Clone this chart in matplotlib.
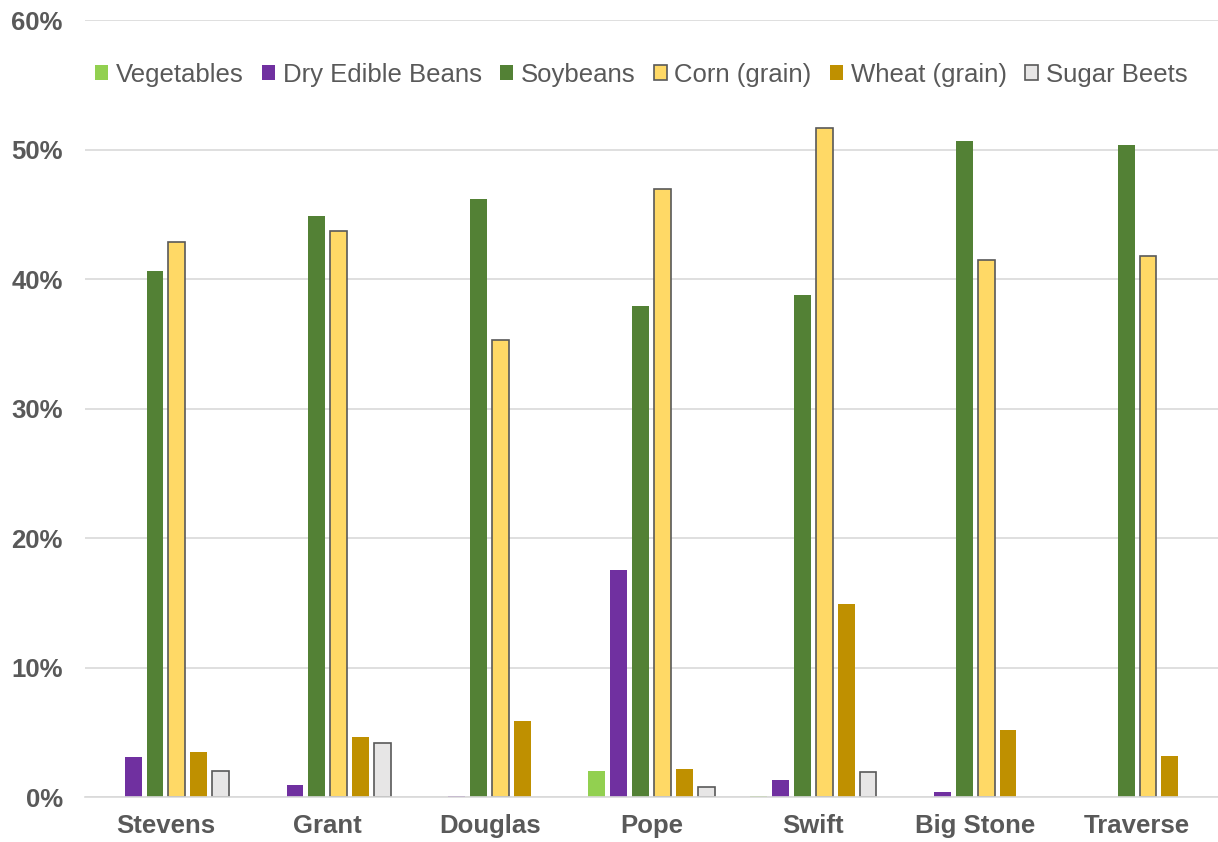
import numpy as np
import matplotlib
matplotlib.use('Agg')
import matplotlib.pyplot as plt

plt.rcParams['font.family'] = ['Liberation Sans', 'DejaVu Sans']

counties = ['Stevens', 'Grant', 'Douglas', 'Pope', 'Swift', 'Big Stone', 'Traverse']
crops = ['Vegetables', 'Dry Edible Beans', 'Soybeans', 'Corn (grain)', 'Wheat (grain)', 'Sugar Beets']

vegetables = [0.0, 0.0, 0.0, 2.0, 0.1, 0.0, 0.0]
dry_beans = [3.1, 0.9, 0.1, 17.5, 1.3, 0.4, 0.0]
soybeans = [40.6, 44.9, 46.2, 37.9, 38.8, 50.7, 50.4]
corn = [42.9, 43.7, 35.3, 47.0, 51.7, 41.5, 41.8]
wheat = [3.5, 4.6, 5.9, 2.2, 14.9, 5.2, 3.2]
sugar_beets = [2.0, 4.2, 0.0, 0.8, 1.9, 0.0, 0.0]

series = [vegetables, dry_beans, soybeans, corn, wheat, sugar_beets]
colors = ['#92D050', '#7030A0', '#538135', '#FFD966', '#BF9000', '#E7E6E6']
edges = [None, None, None, '#595959', None, '#595959']

fig = plt.figure(figsize=(12.18, 8.42), dpi=100)
ax = fig.add_axes([0.0698, 0.0534, 0.9302, 0.9226])

x = np.arange(len(counties))
pitch = 0.135
width = 0.104
for i, (vals, c, ec) in enumerate(zip(series, colors, edges)):
    off = (i - 2.5) * pitch
    v = np.array(vals, dtype=float)
    v[v == 0] = np.nan  # no mark for zero values
    if ec:
        ax.bar(x + off, v, width, color=c, edgecolor=ec, linewidth=1.2, label=crops[i], zorder=3)
    else:
        ax.bar(x + off, v, width, color=c, linewidth=0, label=crops[i], zorder=3)

ax.set_xlim(-0.5, len(counties) - 0.5)
ax.set_ylim(0, 60)
ax.set_yticks(np.arange(0, 61, 10))
ax.set_yticklabels([f'{v}%' for v in range(0, 61, 10)])
ax.set_xticks(x)
ax.set_xticklabels(counties)

ax.grid(axis='y', color='#D9D9D9', linewidth=1.2, zorder=0)
for s in ['top', 'right', 'left']:
    ax.spines[s].set_visible(False)
ax.spines['bottom'].set_color('#D9D9D9')
ax.spines['bottom'].set_linewidth(1.2)
ax.spines['bottom'].set_zorder(4)
ax.tick_params(axis='both', length=0, colors='#595959')
ax.tick_params(axis='x', pad=12)
ax.tick_params(axis='y', pad=16)
for lab in ax.get_xticklabels():
    lab.set_fontsize(18.5)
    lab.set_fontweight('bold')
for lab in ax.get_yticklabels():
    lab.set_fontsize(18.5)
    lab.set_fontweight('bold')

leg = ax.legend(ncol=6, loc='center', bbox_to_anchor=(0.491, 0.93), frameon=False,
                fontsize=18.5, handlelength=0.5, handleheight=0.5, handletextpad=0.3,
                columnspacing=0.72, labelcolor='#595959')

fig.savefig('out.png', dpi=100)
